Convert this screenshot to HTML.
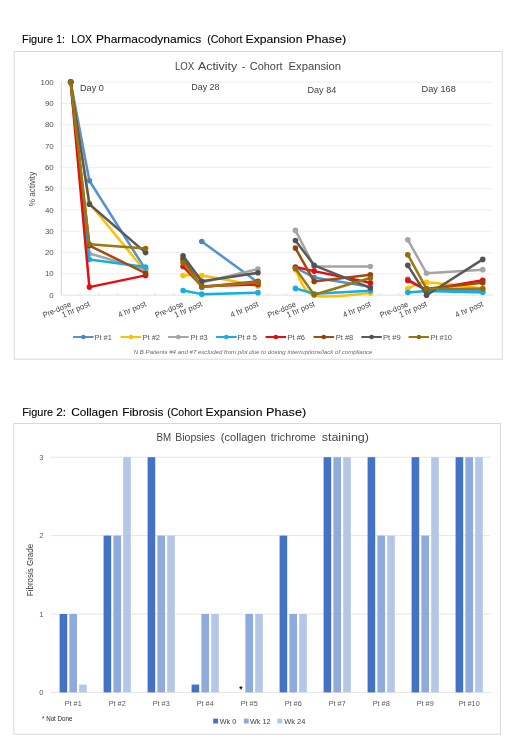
<!DOCTYPE html>
<html lang="en"><head><meta charset="utf-8"><title>Figures</title>
<style>html,body{margin:0;padding:0;background:#fff}body{width:520px;height:751px;overflow:hidden}svg{display:block}text{font-family:"Liberation Sans",sans-serif}</style>
</head><body>
<svg width="520" height="751" viewBox="0 0 520 751">
<rect width="520" height="751" fill="#fff"/>
<text y="43.1" font-size="11.8" fill="#000" stroke="#000" stroke-width="0.1"><tspan x="22" textLength="31" lengthAdjust="spacingAndGlyphs">Figure</tspan> <tspan x="56.3" textLength="8.7" lengthAdjust="spacingAndGlyphs">1:</tspan> <tspan x="71.2" textLength="20.8" lengthAdjust="spacingAndGlyphs">LOX</tspan> <tspan x="96" textLength="105.3" lengthAdjust="spacingAndGlyphs">Pharmacodynamics</tspan> <tspan x="207.2" textLength="35.2" lengthAdjust="spacingAndGlyphs">(Cohort</tspan> <tspan x="245.6" textLength="56.8" lengthAdjust="spacingAndGlyphs">Expansion</tspan> <tspan x="306.1" textLength="40.1" lengthAdjust="spacingAndGlyphs">Phase)</tspan></text>
<rect x="14.2" y="51.5" width="488.1" height="307.7" fill="#fff" stroke="#d9d9d9" stroke-width="1"/>
<text y="70.4" font-size="10.4" fill="#454545"><tspan x="174.9" textLength="19.3" lengthAdjust="spacingAndGlyphs">LOX</tspan> <tspan x="197.9" textLength="39.4" lengthAdjust="spacingAndGlyphs">Activity</tspan> <tspan x="241.7" textLength="3.7" lengthAdjust="spacingAndGlyphs">-</tspan> <tspan x="249.8" textLength="32.8" lengthAdjust="spacingAndGlyphs">Cohort</tspan> <tspan x="288.5" textLength="52.6" lengthAdjust="spacingAndGlyphs">Expansion</tspan></text>
<line x1="61.3" x2="492.09000000000003" y1="273.89" y2="273.89" stroke="#eeeeee" stroke-width="1"/>
<line x1="61.3" x2="492.09000000000003" y1="252.58" y2="252.58" stroke="#eeeeee" stroke-width="1"/>
<line x1="61.3" x2="492.09000000000003" y1="231.27" y2="231.27" stroke="#eeeeee" stroke-width="1"/>
<line x1="61.3" x2="492.09000000000003" y1="209.96" y2="209.96" stroke="#eeeeee" stroke-width="1"/>
<line x1="61.3" x2="492.09000000000003" y1="188.65" y2="188.65" stroke="#eeeeee" stroke-width="1"/>
<line x1="61.3" x2="492.09000000000003" y1="167.34" y2="167.34" stroke="#eeeeee" stroke-width="1"/>
<line x1="61.3" x2="492.09000000000003" y1="146.03" y2="146.03" stroke="#eeeeee" stroke-width="1"/>
<line x1="61.3" x2="492.09000000000003" y1="124.72" y2="124.72" stroke="#eeeeee" stroke-width="1"/>
<line x1="61.3" x2="492.09000000000003" y1="103.41" y2="103.41" stroke="#eeeeee" stroke-width="1"/>
<line x1="61.3" x2="492.09000000000003" y1="82.1" y2="82.1" stroke="#eeeeee" stroke-width="1"/>
<line x1="61.3" x2="61.3" y1="82.1" y2="295.2" stroke="#d4d4d4" stroke-width="1"/>
<line x1="61.3" x2="492.09000000000003" y1="295.2" y2="295.2" stroke="#e2e2e2" stroke-width="1"/>
<line x1="61.3" x2="61.3" y1="295.2" y2="293.0" stroke="#e2e2e2" stroke-width="1"/>
<line x1="80.03" x2="80.03" y1="295.2" y2="293.0" stroke="#e2e2e2" stroke-width="1"/>
<line x1="98.76" x2="98.76" y1="295.2" y2="293.0" stroke="#e2e2e2" stroke-width="1"/>
<line x1="117.49" x2="117.49" y1="295.2" y2="293.0" stroke="#e2e2e2" stroke-width="1"/>
<line x1="136.22" x2="136.22" y1="295.2" y2="293.0" stroke="#e2e2e2" stroke-width="1"/>
<line x1="154.95" x2="154.95" y1="295.2" y2="293.0" stroke="#e2e2e2" stroke-width="1"/>
<line x1="173.68" x2="173.68" y1="295.2" y2="293.0" stroke="#e2e2e2" stroke-width="1"/>
<line x1="192.41" x2="192.41" y1="295.2" y2="293.0" stroke="#e2e2e2" stroke-width="1"/>
<line x1="211.14" x2="211.14" y1="295.2" y2="293.0" stroke="#e2e2e2" stroke-width="1"/>
<line x1="229.87" x2="229.87" y1="295.2" y2="293.0" stroke="#e2e2e2" stroke-width="1"/>
<line x1="248.6" x2="248.6" y1="295.2" y2="293.0" stroke="#e2e2e2" stroke-width="1"/>
<line x1="267.33" x2="267.33" y1="295.2" y2="293.0" stroke="#e2e2e2" stroke-width="1"/>
<line x1="286.06" x2="286.06" y1="295.2" y2="293.0" stroke="#e2e2e2" stroke-width="1"/>
<line x1="304.79" x2="304.79" y1="295.2" y2="293.0" stroke="#e2e2e2" stroke-width="1"/>
<line x1="323.52" x2="323.52" y1="295.2" y2="293.0" stroke="#e2e2e2" stroke-width="1"/>
<line x1="342.25" x2="342.25" y1="295.2" y2="293.0" stroke="#e2e2e2" stroke-width="1"/>
<line x1="360.98" x2="360.98" y1="295.2" y2="293.0" stroke="#e2e2e2" stroke-width="1"/>
<line x1="379.71" x2="379.71" y1="295.2" y2="293.0" stroke="#e2e2e2" stroke-width="1"/>
<line x1="398.44" x2="398.44" y1="295.2" y2="293.0" stroke="#e2e2e2" stroke-width="1"/>
<line x1="417.17" x2="417.17" y1="295.2" y2="293.0" stroke="#e2e2e2" stroke-width="1"/>
<line x1="435.9" x2="435.9" y1="295.2" y2="293.0" stroke="#e2e2e2" stroke-width="1"/>
<line x1="454.63" x2="454.63" y1="295.2" y2="293.0" stroke="#e2e2e2" stroke-width="1"/>
<line x1="473.36" x2="473.36" y1="295.2" y2="293.0" stroke="#e2e2e2" stroke-width="1"/>
<line x1="492.09" x2="492.09" y1="295.2" y2="293.0" stroke="#e2e2e2" stroke-width="1"/>
<text x="53.7" y="297.8" font-size="7.9" fill="#505050" text-anchor="end">0</text>
<text x="53.7" y="276.49" font-size="7.9" fill="#505050" text-anchor="end">10</text>
<text x="53.7" y="255.18" font-size="7.9" fill="#505050" text-anchor="end">20</text>
<text x="53.7" y="233.87" font-size="7.9" fill="#505050" text-anchor="end">30</text>
<text x="53.7" y="212.56" font-size="7.9" fill="#505050" text-anchor="end">40</text>
<text x="53.7" y="191.25" font-size="7.9" fill="#505050" text-anchor="end">50</text>
<text x="53.7" y="169.94" font-size="7.9" fill="#505050" text-anchor="end">60</text>
<text x="53.7" y="148.63" font-size="7.9" fill="#505050" text-anchor="end">70</text>
<text x="53.7" y="127.32" font-size="7.9" fill="#505050" text-anchor="end">80</text>
<text x="53.7" y="106.01" font-size="7.9" fill="#505050" text-anchor="end">90</text>
<text x="53.7" y="84.7" font-size="7.9" fill="#505050" text-anchor="end">100</text>
<text transform="translate(35.2 189) rotate(-90)" font-size="8.5" fill="#505050" text-anchor="middle" textLength="34.4" lengthAdjust="spacingAndGlyphs">% activity</text>
<text x="80" y="90.5" font-size="9.4" fill="#404040" text-anchor="start" textLength="23.8" lengthAdjust="spacingAndGlyphs">Day 0</text>
<text x="191.2" y="90.3" font-size="9.4" fill="#404040" text-anchor="start" textLength="28.4" lengthAdjust="spacingAndGlyphs">Day 28</text>
<text x="307.5" y="92.5" font-size="9.4" fill="#404040" text-anchor="start" textLength="28.8" lengthAdjust="spacingAndGlyphs">Day 84</text>
<text x="421.5" y="92.3" font-size="9.4" fill="#404040" text-anchor="start" textLength="34.3" lengthAdjust="spacingAndGlyphs">Day 168</text>
<text transform="translate(71.66 306.0) rotate(-23.5)" font-size="8.1" fill="#404040" text-anchor="end" textLength="30.0" lengthAdjust="spacingAndGlyphs">Pre-dose</text>
<text transform="translate(90.39 306.0) rotate(-23.5)" font-size="8.1" fill="#404040" text-anchor="end" textLength="29.6" lengthAdjust="spacingAndGlyphs">1 hr post</text>
<text transform="translate(146.58 306.0) rotate(-23.5)" font-size="8.1" fill="#404040" text-anchor="end" textLength="29.6" lengthAdjust="spacingAndGlyphs">4 hr post</text>
<text transform="translate(184.05 306.0) rotate(-23.5)" font-size="8.1" fill="#404040" text-anchor="end" textLength="30.0" lengthAdjust="spacingAndGlyphs">Pre-dose</text>
<text transform="translate(202.77 306.0) rotate(-23.5)" font-size="8.1" fill="#404040" text-anchor="end" textLength="29.6" lengthAdjust="spacingAndGlyphs">1 hr post</text>
<text transform="translate(258.96 306.0) rotate(-23.5)" font-size="8.1" fill="#404040" text-anchor="end" textLength="29.6" lengthAdjust="spacingAndGlyphs">4 hr post</text>
<text transform="translate(296.43 306.0) rotate(-23.5)" font-size="8.1" fill="#404040" text-anchor="end" textLength="30.0" lengthAdjust="spacingAndGlyphs">Pre-dose</text>
<text transform="translate(315.16 306.0) rotate(-23.5)" font-size="8.1" fill="#404040" text-anchor="end" textLength="29.6" lengthAdjust="spacingAndGlyphs">1 hr post</text>
<text transform="translate(371.35 306.0) rotate(-23.5)" font-size="8.1" fill="#404040" text-anchor="end" textLength="29.6" lengthAdjust="spacingAndGlyphs">4 hr post</text>
<text transform="translate(408.81 306.0) rotate(-23.5)" font-size="8.1" fill="#404040" text-anchor="end" textLength="30.0" lengthAdjust="spacingAndGlyphs">Pre-dose</text>
<text transform="translate(427.54 306.0) rotate(-23.5)" font-size="8.1" fill="#404040" text-anchor="end" textLength="29.6" lengthAdjust="spacingAndGlyphs">1 hr post</text>
<text transform="translate(483.73 306.0) rotate(-23.5)" font-size="8.1" fill="#404040" text-anchor="end" textLength="29.6" lengthAdjust="spacingAndGlyphs">4 hr post</text>
<g stroke="#5291d2" fill="#5291d2" stroke-width="2.5" stroke-linejoin="round" stroke-linecap="round">
<polyline fill="none" points="70.66,82.1 89.39,180.77 145.58,269.63"/>
<circle cx="70.66" cy="82.1" r="2.8" stroke="none" fill="#4a84c4"/>
<circle cx="89.39" cy="180.77" r="2.8" stroke="none" fill="#4a84c4"/>
<circle cx="145.58" cy="269.63" r="2.8" stroke="none" fill="#4a84c4"/>
<polyline fill="none" points="201.77,241.5 257.96,282.41"/>
<circle cx="201.77" cy="241.5" r="2.8" stroke="none" fill="#4a84c4"/>
<circle cx="257.96" cy="282.41" r="2.8" stroke="none" fill="#4a84c4"/>
<polyline fill="none" points="295.43,267.71 314.16,277.51 370.35,286.68"/>
<circle cx="295.43" cy="267.71" r="2.8" stroke="none" fill="#4a84c4"/>
<circle cx="314.16" cy="277.51" r="2.8" stroke="none" fill="#4a84c4"/>
<circle cx="370.35" cy="286.68" r="2.8" stroke="none" fill="#4a84c4"/>
<polyline fill="none" points="407.81,279.22 426.54,290.51 482.73,290.94"/>
<circle cx="407.81" cy="279.22" r="2.8" stroke="none" fill="#4a84c4"/>
<circle cx="426.54" cy="290.51" r="2.8" stroke="none" fill="#4a84c4"/>
<circle cx="482.73" cy="290.94" r="2.8" stroke="none" fill="#4a84c4"/>
</g>
<g stroke="#ffc000" fill="#ffc000" stroke-width="2.5" stroke-linejoin="round" stroke-linecap="round">
<polyline fill="none" points="70.66,82.1 89.39,202.93 145.58,271.76"/>
<circle cx="70.66" cy="82.1" r="2.8" stroke="none" fill="#ffc000"/>
<circle cx="89.39" cy="202.93" r="2.8" stroke="none" fill="#ffc000"/>
<circle cx="145.58" cy="271.76" r="2.8" stroke="none" fill="#ffc000"/>
<path fill="none" d="M183.05,275.59 C186.17,275.59 189.29,273.85 201.77,275.59 C214.25,277.33 248.59,284.30 257.96,286.04"/>
<circle cx="183.05" cy="275.59" r="2.8" stroke="none" fill="#ffc000"/>
<circle cx="201.77" cy="275.59" r="2.8" stroke="none" fill="#ffc000"/>
<circle cx="257.96" cy="286.04" r="2.8" stroke="none" fill="#ffc000"/>
<path fill="none" d="M295.43,269.63 C298.55,273.89 301.67,291.29 314.16,295.2 C326.65,299.11 360.99,293.43 370.35,293.07"/>
<circle cx="295.43" cy="269.63" r="2.8" stroke="none" fill="#ffc000"/>
<circle cx="314.16" cy="295.2" r="2.8" stroke="none" fill="#ffc000"/>
<circle cx="370.35" cy="293.07" r="2.8" stroke="none" fill="#ffc000"/>
<path fill="none" d="M407.81,288.81 C410.93,287.74 414.05,282.48 426.54,282.41 C439.03,282.34 473.37,287.38 482.73,288.38"/>
<circle cx="407.81" cy="288.81" r="2.8" stroke="none" fill="#ffc000"/>
<circle cx="426.54" cy="282.41" r="2.8" stroke="none" fill="#ffc000"/>
<circle cx="482.73" cy="288.38" r="2.8" stroke="none" fill="#ffc000"/>
</g>
<g stroke="#a5a5a5" fill="#a5a5a5" stroke-width="2.5" stroke-linejoin="round" stroke-linecap="round">
<polyline fill="none" points="70.66,82.1 89.39,253.43 145.58,269.63"/>
<circle cx="70.66" cy="82.1" r="2.8" stroke="none" fill="#a5a5a5"/>
<circle cx="89.39" cy="253.43" r="2.8" stroke="none" fill="#a5a5a5"/>
<circle cx="145.58" cy="269.63" r="2.8" stroke="none" fill="#a5a5a5"/>
<polyline fill="none" points="183.05,258.55 201.77,282.41 257.96,268.99"/>
<circle cx="183.05" cy="258.55" r="2.8" stroke="none" fill="#a5a5a5"/>
<circle cx="201.77" cy="282.41" r="2.8" stroke="none" fill="#a5a5a5"/>
<circle cx="257.96" cy="268.99" r="2.8" stroke="none" fill="#a5a5a5"/>
<polyline fill="none" points="295.43,230.42 314.16,266.43 370.35,266.43"/>
<circle cx="295.43" cy="230.42" r="2.8" stroke="none" fill="#a5a5a5"/>
<circle cx="314.16" cy="266.43" r="2.8" stroke="none" fill="#a5a5a5"/>
<circle cx="370.35" cy="266.43" r="2.8" stroke="none" fill="#a5a5a5"/>
<polyline fill="none" points="407.81,239.79 426.54,273.25 482.73,269.63"/>
<circle cx="407.81" cy="239.79" r="2.8" stroke="none" fill="#a5a5a5"/>
<circle cx="426.54" cy="273.25" r="2.8" stroke="none" fill="#a5a5a5"/>
<circle cx="482.73" cy="269.63" r="2.8" stroke="none" fill="#a5a5a5"/>
</g>
<g stroke="#14ade8" fill="#14ade8" stroke-width="2.5" stroke-linejoin="round" stroke-linecap="round">
<polyline fill="none" points="70.66,82.1 89.39,259.61 145.58,267.07"/>
<circle cx="70.66" cy="82.1" r="2.8" stroke="none" fill="#14ade8"/>
<circle cx="89.39" cy="259.61" r="2.8" stroke="none" fill="#14ade8"/>
<circle cx="145.58" cy="267.07" r="2.8" stroke="none" fill="#14ade8"/>
<polyline fill="none" points="183.05,290.51 201.77,294.13 257.96,292.64"/>
<circle cx="183.05" cy="290.51" r="2.8" stroke="none" fill="#14ade8"/>
<circle cx="201.77" cy="294.13" r="2.8" stroke="none" fill="#14ade8"/>
<circle cx="257.96" cy="292.64" r="2.8" stroke="none" fill="#14ade8"/>
<polyline fill="none" points="295.43,288.38 314.16,293.71 370.35,290.72"/>
<circle cx="295.43" cy="288.38" r="2.8" stroke="none" fill="#14ade8"/>
<circle cx="314.16" cy="293.71" r="2.8" stroke="none" fill="#14ade8"/>
<circle cx="370.35" cy="290.72" r="2.8" stroke="none" fill="#14ade8"/>
<polyline fill="none" points="407.81,292.43 426.54,290.94 482.73,292.43"/>
<circle cx="407.81" cy="292.43" r="2.8" stroke="none" fill="#14ade8"/>
<circle cx="426.54" cy="290.94" r="2.8" stroke="none" fill="#14ade8"/>
<circle cx="482.73" cy="292.43" r="2.8" stroke="none" fill="#14ade8"/>
</g>
<g stroke="#e80c0c" fill="#e80c0c" stroke-width="2.5" stroke-linejoin="round" stroke-linecap="round">
<polyline fill="none" points="70.66,82.1 89.39,287.1 145.58,275.38"/>
<circle cx="70.66" cy="82.1" r="2.8" stroke="none" fill="#e80c0c"/>
<circle cx="89.39" cy="287.1" r="2.8" stroke="none" fill="#e80c0c"/>
<circle cx="145.58" cy="275.38" r="2.8" stroke="none" fill="#e80c0c"/>
<polyline fill="none" points="183.05,266.43 201.77,286.25 257.96,284.55"/>
<circle cx="183.05" cy="266.43" r="2.8" stroke="none" fill="#e80c0c"/>
<circle cx="201.77" cy="286.25" r="2.8" stroke="none" fill="#e80c0c"/>
<circle cx="257.96" cy="284.55" r="2.8" stroke="none" fill="#e80c0c"/>
<polyline fill="none" points="295.43,267.07 314.16,271.12 370.35,282.84"/>
<circle cx="295.43" cy="267.07" r="2.8" stroke="none" fill="#e80c0c"/>
<circle cx="314.16" cy="271.12" r="2.8" stroke="none" fill="#e80c0c"/>
<circle cx="370.35" cy="282.84" r="2.8" stroke="none" fill="#e80c0c"/>
<polyline fill="none" points="407.81,280.5 426.54,289.87 482.73,280.28"/>
<circle cx="407.81" cy="280.5" r="2.8" stroke="none" fill="#e80c0c"/>
<circle cx="426.54" cy="289.87" r="2.8" stroke="none" fill="#e80c0c"/>
<circle cx="482.73" cy="280.28" r="2.8" stroke="none" fill="#e80c0c"/>
</g>
<g stroke="#a24a10" fill="#a24a10" stroke-width="2.5" stroke-linejoin="round" stroke-linecap="round">
<polyline fill="none" points="70.66,82.1 89.39,245.55 145.58,273.25"/>
<circle cx="70.66" cy="82.1" r="2.8" stroke="none" fill="#8f4310"/>
<circle cx="89.39" cy="245.55" r="2.8" stroke="none" fill="#8f4310"/>
<circle cx="145.58" cy="273.25" r="2.8" stroke="none" fill="#8f4310"/>
<polyline fill="none" points="183.05,259.4 201.77,287.1 257.96,281.35"/>
<circle cx="183.05" cy="259.4" r="2.8" stroke="none" fill="#8f4310"/>
<circle cx="201.77" cy="287.1" r="2.8" stroke="none" fill="#8f4310"/>
<circle cx="257.96" cy="281.35" r="2.8" stroke="none" fill="#8f4310"/>
<polyline fill="none" points="295.43,248.1 314.16,281.56 370.35,274.74"/>
<circle cx="295.43" cy="248.1" r="2.8" stroke="none" fill="#8f4310"/>
<circle cx="314.16" cy="281.56" r="2.8" stroke="none" fill="#8f4310"/>
<circle cx="370.35" cy="274.74" r="2.8" stroke="none" fill="#8f4310"/>
<polyline fill="none" points="426.54,288.81 482.73,282.84"/>
<circle cx="426.54" cy="288.81" r="2.8" stroke="none" fill="#8f4310"/>
<circle cx="482.73" cy="282.84" r="2.8" stroke="none" fill="#8f4310"/>
</g>
<g stroke="#5a5a5a" fill="#5a5a5a" stroke-width="2.5" stroke-linejoin="round" stroke-linecap="round">
<polyline fill="none" points="70.66,82.1 89.39,204.21 145.58,252.58"/>
<circle cx="70.66" cy="82.1" r="2.8" stroke="none" fill="#525252"/>
<circle cx="89.39" cy="204.21" r="2.8" stroke="none" fill="#525252"/>
<circle cx="145.58" cy="252.58" r="2.8" stroke="none" fill="#525252"/>
<polyline fill="none" points="183.05,255.78 201.77,281.35 257.96,272.82"/>
<circle cx="183.05" cy="255.78" r="2.8" stroke="none" fill="#525252"/>
<circle cx="201.77" cy="281.35" r="2.8" stroke="none" fill="#525252"/>
<circle cx="257.96" cy="272.82" r="2.8" stroke="none" fill="#525252"/>
<polyline fill="none" points="295.43,240.43 314.16,265.37 370.35,287.95"/>
<circle cx="295.43" cy="240.43" r="2.8" stroke="none" fill="#525252"/>
<circle cx="314.16" cy="265.37" r="2.8" stroke="none" fill="#525252"/>
<circle cx="370.35" cy="287.95" r="2.8" stroke="none" fill="#525252"/>
<polyline fill="none" points="407.81,265.37 426.54,295.2 482.73,259.4"/>
<circle cx="407.81" cy="265.37" r="2.8" stroke="none" fill="#525252"/>
<circle cx="426.54" cy="295.2" r="2.8" stroke="none" fill="#525252"/>
<circle cx="482.73" cy="259.4" r="2.8" stroke="none" fill="#525252"/>
</g>
<g stroke="#9a780d" fill="#9a780d" stroke-width="2.5" stroke-linejoin="round" stroke-linecap="round">
<polyline fill="none" points="70.66,82.1 89.39,244.27 145.58,248.53"/>
<circle cx="70.66" cy="82.1" r="2.8" stroke="none" fill="#8c6e10"/>
<circle cx="89.39" cy="244.27" r="2.8" stroke="none" fill="#8c6e10"/>
<circle cx="145.58" cy="248.53" r="2.8" stroke="none" fill="#8c6e10"/>
<polyline fill="none" points="183.05,262.81 201.77,287.1 257.96,282.41"/>
<circle cx="183.05" cy="262.81" r="2.8" stroke="none" fill="#8c6e10"/>
<circle cx="201.77" cy="287.1" r="2.8" stroke="none" fill="#8c6e10"/>
<circle cx="257.96" cy="282.41" r="2.8" stroke="none" fill="#8c6e10"/>
<polyline fill="none" points="295.43,268.56 314.16,294.77 370.35,277.94"/>
<circle cx="295.43" cy="268.56" r="2.8" stroke="none" fill="#8c6e10"/>
<circle cx="314.16" cy="294.77" r="2.8" stroke="none" fill="#8c6e10"/>
<circle cx="370.35" cy="277.94" r="2.8" stroke="none" fill="#8c6e10"/>
<polyline fill="none" points="407.81,254.71 426.54,288.81 482.73,288.81"/>
<circle cx="407.81" cy="254.71" r="2.8" stroke="none" fill="#8c6e10"/>
<circle cx="426.54" cy="288.81" r="2.8" stroke="none" fill="#8c6e10"/>
<circle cx="482.73" cy="288.81" r="2.8" stroke="none" fill="#8c6e10"/>
</g>
<line x1="73.75" x2="92.95" y1="337" y2="337" stroke="#5291d2" stroke-width="1.8" stroke-linecap="round"/>
<circle cx="83.35" cy="337" r="2.3" fill="#4a84c4"/>
<text x="94.5" y="339.8" font-size="8.0" fill="#505050" text-anchor="start" textLength="17.3" lengthAdjust="spacingAndGlyphs">Pt #1</text>
<line x1="121.25" x2="140.45" y1="337" y2="337" stroke="#ffc000" stroke-width="1.8" stroke-linecap="round"/>
<circle cx="130.85" cy="337" r="2.3" fill="#ffc000"/>
<text x="142.5" y="339.8" font-size="8.0" fill="#505050" text-anchor="start" textLength="17.5" lengthAdjust="spacingAndGlyphs">Pt #2</text>
<line x1="168.75" x2="187.95" y1="337" y2="337" stroke="#a5a5a5" stroke-width="1.8" stroke-linecap="round"/>
<circle cx="178.35" cy="337" r="2.3" fill="#a5a5a5"/>
<text x="190.5" y="339.8" font-size="8.0" fill="#505050" text-anchor="start" textLength="17.2" lengthAdjust="spacingAndGlyphs">Pt #3</text>
<line x1="216.75" x2="235.95" y1="337" y2="337" stroke="#14ade8" stroke-width="1.8" stroke-linecap="round"/>
<circle cx="226.35" cy="337" r="2.3" fill="#14ade8"/>
<text x="237.5" y="339.8" font-size="8.0" fill="#505050" text-anchor="start" textLength="19.5" lengthAdjust="spacingAndGlyphs">Pt # 5</text>
<line x1="266.25" x2="285.45" y1="337" y2="337" stroke="#e80c0c" stroke-width="1.8" stroke-linecap="round"/>
<circle cx="275.85" cy="337" r="2.3" fill="#e80c0c"/>
<text x="287.5" y="339.8" font-size="8.0" fill="#505050" text-anchor="start" textLength="17.5" lengthAdjust="spacingAndGlyphs">Pt #6</text>
<line x1="314.25" x2="333.45" y1="337" y2="337" stroke="#a24a10" stroke-width="1.8" stroke-linecap="round"/>
<circle cx="323.85" cy="337" r="2.3" fill="#8f4310"/>
<text x="335.75" y="339.8" font-size="8.0" fill="#505050" text-anchor="start" textLength="17.5" lengthAdjust="spacingAndGlyphs">Pt #8</text>
<line x1="362" x2="381.2" y1="337" y2="337" stroke="#5a5a5a" stroke-width="1.8" stroke-linecap="round"/>
<circle cx="371.6" cy="337" r="2.3" fill="#525252"/>
<text x="383" y="339.8" font-size="8.0" fill="#505050" text-anchor="start" textLength="17.7" lengthAdjust="spacingAndGlyphs">Pt #9</text>
<line x1="409.25" x2="428.45" y1="337" y2="337" stroke="#9a780d" stroke-width="1.8" stroke-linecap="round"/>
<circle cx="418.85" cy="337" r="2.3" fill="#8c6e10"/>
<text x="430.5" y="339.8" font-size="8.0" fill="#505050" text-anchor="start" textLength="21.5" lengthAdjust="spacingAndGlyphs">Pt #10</text>
<text x="133.8" y="354.4" font-size="5.6" fill="#6a6a6a" font-style="italic" textLength="238.7" lengthAdjust="spacingAndGlyphs">N.B Patients #4 and #7 excluded from plot due to dosing interruptions/lack of compliance</text>
<text y="415.6" font-size="11.8" fill="#000" stroke="#000" stroke-width="0.1"><tspan x="22.2" textLength="30.9" lengthAdjust="spacingAndGlyphs">Figure</tspan> <tspan x="56.2" textLength="9.8" lengthAdjust="spacingAndGlyphs">2:</tspan> <tspan x="71.2" textLength="46.8" lengthAdjust="spacingAndGlyphs">Collagen</tspan> <tspan x="122.3" textLength="41.2" lengthAdjust="spacingAndGlyphs">Fibrosis</tspan> <tspan x="167.2" textLength="35.2" lengthAdjust="spacingAndGlyphs">(Cohort</tspan> <tspan x="205.6" textLength="56.8" lengthAdjust="spacingAndGlyphs">Expansion</tspan> <tspan x="266.1" textLength="40.1" lengthAdjust="spacingAndGlyphs">Phase)</tspan></text>
<rect x="13.8" y="423.5" width="486.7" height="310.7" fill="#fff" stroke="#d9d9d9" stroke-width="1"/>
<text y="441.0" font-size="10.2" fill="#454545"><tspan x="156.6" textLength="14.6" lengthAdjust="spacingAndGlyphs">BM</tspan> <tspan x="175.2" textLength="39.8" lengthAdjust="spacingAndGlyphs">Biopsies</tspan> <tspan x="220.8" textLength="45.1" lengthAdjust="spacingAndGlyphs">(collagen</tspan> <tspan x="270.8" textLength="45.1" lengthAdjust="spacingAndGlyphs">trichrome</tspan> <tspan x="321.7" textLength="47.3" lengthAdjust="spacingAndGlyphs">staining)</tspan></text>
<line x1="50.5" x2="491" y1="692.4" y2="692.4" stroke="#e6e6e6" stroke-width="1"/>
<text x="43.5" y="695.1" font-size="7.5" fill="#595959" text-anchor="end">0</text>
<line x1="50.5" x2="491" y1="614.0" y2="614.0" stroke="#e6e6e6" stroke-width="1"/>
<text x="43.5" y="616.7" font-size="7.5" fill="#595959" text-anchor="end">1</text>
<line x1="50.5" x2="491" y1="535.6" y2="535.6" stroke="#e6e6e6" stroke-width="1"/>
<text x="43.5" y="538.3" font-size="7.5" fill="#595959" text-anchor="end">2</text>
<line x1="50.5" x2="491" y1="457.2" y2="457.2" stroke="#e6e6e6" stroke-width="1"/>
<text x="43.5" y="459.9" font-size="7.5" fill="#595959" text-anchor="end">3</text>
<text transform="translate(33.1 570) rotate(-90)" font-size="8.8" fill="#383838" text-anchor="middle" textLength="52.3" lengthAdjust="spacingAndGlyphs">Fibrosis Grade</text>
<rect x="59.6" y="614.0" width="7.6" height="78.4" fill="#4472c4"/>
<rect x="69.4" y="614.0" width="7.6" height="78.4" fill="#8faadc"/>
<rect x="79.2" y="684.56" width="7.6" height="7.84" fill="#b4c7e7"/>
<text x="73.2" y="706.0" font-size="7.5" fill="#595959" text-anchor="middle" textLength="17.0" lengthAdjust="spacingAndGlyphs">Pt #1</text>
<rect x="103.6" y="535.6" width="7.6" height="156.8" fill="#4472c4"/>
<rect x="113.4" y="535.6" width="7.6" height="156.8" fill="#8faadc"/>
<rect x="123.2" y="457.2" width="7.6" height="235.2" fill="#b4c7e7"/>
<text x="117.2" y="706.0" font-size="7.5" fill="#595959" text-anchor="middle" textLength="17.0" lengthAdjust="spacingAndGlyphs">Pt #2</text>
<rect x="147.6" y="457.2" width="7.6" height="235.2" fill="#4472c4"/>
<rect x="157.4" y="535.6" width="7.6" height="156.8" fill="#8faadc"/>
<rect x="167.2" y="535.6" width="7.6" height="156.8" fill="#b4c7e7"/>
<text x="161.2" y="706.0" font-size="7.5" fill="#595959" text-anchor="middle" textLength="17.0" lengthAdjust="spacingAndGlyphs">Pt #3</text>
<rect x="191.6" y="684.56" width="7.6" height="7.84" fill="#4472c4"/>
<rect x="201.4" y="614.0" width="7.6" height="78.4" fill="#8faadc"/>
<rect x="211.2" y="614.0" width="7.6" height="78.4" fill="#b4c7e7"/>
<text x="205.2" y="706.0" font-size="7.5" fill="#595959" text-anchor="middle" textLength="17.0" lengthAdjust="spacingAndGlyphs">Pt #4</text>
<rect x="245.4" y="614.0" width="7.6" height="78.4" fill="#8faadc"/>
<rect x="255.2" y="614.0" width="7.6" height="78.4" fill="#b4c7e7"/>
<text x="249.2" y="706.0" font-size="7.5" fill="#595959" text-anchor="middle" textLength="17.0" lengthAdjust="spacingAndGlyphs">Pt #5</text>
<rect x="279.6" y="535.6" width="7.6" height="156.8" fill="#4472c4"/>
<rect x="289.4" y="614.0" width="7.6" height="78.4" fill="#8faadc"/>
<rect x="299.2" y="614.0" width="7.6" height="78.4" fill="#b4c7e7"/>
<text x="293.2" y="706.0" font-size="7.5" fill="#595959" text-anchor="middle" textLength="17.0" lengthAdjust="spacingAndGlyphs">Pt #6</text>
<rect x="323.6" y="457.2" width="7.6" height="235.2" fill="#4472c4"/>
<rect x="333.4" y="457.2" width="7.6" height="235.2" fill="#8faadc"/>
<rect x="343.2" y="457.2" width="7.6" height="235.2" fill="#b4c7e7"/>
<text x="337.2" y="706.0" font-size="7.5" fill="#595959" text-anchor="middle" textLength="17.0" lengthAdjust="spacingAndGlyphs">Pt #7</text>
<rect x="367.6" y="457.2" width="7.6" height="235.2" fill="#4472c4"/>
<rect x="377.4" y="535.6" width="7.6" height="156.8" fill="#8faadc"/>
<rect x="387.2" y="535.6" width="7.6" height="156.8" fill="#b4c7e7"/>
<text x="381.2" y="706.0" font-size="7.5" fill="#595959" text-anchor="middle" textLength="17.0" lengthAdjust="spacingAndGlyphs">Pt #8</text>
<rect x="411.6" y="457.2" width="7.6" height="235.2" fill="#4472c4"/>
<rect x="421.4" y="535.6" width="7.6" height="156.8" fill="#8faadc"/>
<rect x="431.2" y="457.2" width="7.6" height="235.2" fill="#b4c7e7"/>
<text x="425.2" y="706.0" font-size="7.5" fill="#595959" text-anchor="middle" textLength="17.0" lengthAdjust="spacingAndGlyphs">Pt #9</text>
<rect x="455.6" y="457.2" width="7.6" height="235.2" fill="#4472c4"/>
<rect x="465.4" y="457.2" width="7.6" height="235.2" fill="#8faadc"/>
<rect x="475.2" y="457.2" width="7.6" height="235.2" fill="#b4c7e7"/>
<text x="469.2" y="706.0" font-size="7.5" fill="#595959" text-anchor="middle" textLength="21.0" lengthAdjust="spacingAndGlyphs">Pt #10</text>
<text x="240.8" y="691.6" font-size="8.5" fill="#000" text-anchor="middle" font-weight="bold">*</text>
<text x="42" y="721.2" font-size="6.6" fill="#262626" text-anchor="start" textLength="30.5" lengthAdjust="spacingAndGlyphs">* Not Done</text>
<rect x="213.2" y="718.6" width="4.9" height="4.9" fill="#4472c4"/>
<text x="219.7" y="723.9" font-size="7.7" fill="#404040" text-anchor="start" textLength="16.5" lengthAdjust="spacingAndGlyphs">Wk 0</text>
<rect x="243.8" y="718.6" width="4.9" height="4.9" fill="#8faadc"/>
<text x="250" y="723.9" font-size="7.7" fill="#404040" text-anchor="start" textLength="20.5" lengthAdjust="spacingAndGlyphs">Wk 12</text>
<rect x="277.4" y="718.6" width="4.9" height="4.9" fill="#b4c7e7"/>
<text x="284.3" y="723.9" font-size="7.7" fill="#404040" text-anchor="start" textLength="21.1" lengthAdjust="spacingAndGlyphs">Wk 24</text>
</svg></body></html>
